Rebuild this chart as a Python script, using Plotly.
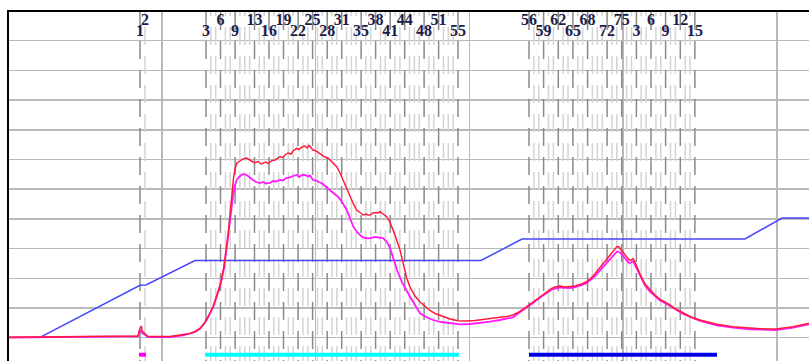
import plotly.graph_objects as go

# ---- curve data (x: time units, y: level units) ----
red_x = [0, 32, 92, 130, 132, 133.5, 134, 136, 138, 140, 162, 175, 182, 187, 192, 196, 199, 202, 205, 208,
         211, 213.7, 216, 218, 220, 222, 224, 225.5, 227, 229, 232, 235, 238.7, 242, 245, 247, 250, 253, 255, 258,
         260, 263.7, 267, 270, 272, 275, 277, 280, 283, 285, 288.7, 291, 294, 297, 299, 301, 303, 305, 308, 311,
         313.7, 317, 320, 322, 325, 328.7, 332, 335, 338, 342, 345, 348.7, 352, 355.3, 358, 360, 362, 365, 368, 370,
         372, 375, 378.7, 382, 385.3, 388, 392, 395, 398.7, 402, 407, 412, 417, 422, 427, 435, 442, 450, 458.7, 467,
         475, 482, 492, 499, 505, 510, 514, 518.7, 525, 532, 538, 543.7, 547, 552, 557, 562, 567, 570, 573.7, 578,
         582, 586, 590, 594, 598, 601, 604, 607, 609, 611, 613, 615, 617, 619, 621, 623, 625, 627, 629, 632, 637,
         642, 647, 652, 658.7, 667, 675, 682, 692, 708.7, 725, 742, 757, 768, 777, 785, 792, 801]
red_y = [0.4, 0.9, 1.2, 1.7, 9.7, 11.7, 6.7, 4.7, 3.7, 1.2, 1.2, 2.7, 4.2, 6.2, 9.4, 13.7, 18.7, 24.7, 31, 39.7,
         48.7, 57.7, 71.7, 85.7, 102.7, 122.7, 144.7, 159.7, 168.7, 174.7, 176.7, 178.7, 179.7, 177.2, 175.7, 175, 176.2, 173.7, 174.7, 175.7,
         174.2, 177, 177.7, 179.7, 181, 180.2, 182.7, 184.7, 183.7, 186.7, 189.4, 188.2, 190.7, 191.7, 189.7, 192.2, 189.7, 187.7, 186.7, 184.7,
         182.7, 180.7, 179.7, 177.7, 175.7, 171, 164.7, 157.7, 150.7, 141, 134.7, 127.7, 124.7, 122.7, 123.7, 122.7, 122.7, 124.7, 125.2, 124.7,
         126, 123.7, 121, 115.7, 107.7, 99.7, 87.7, 74.7, 59.7, 50.7, 41.7, 35.7, 31, 27.2, 24.2, 21, 18.7, 17, 16.7, 17.2,
         18.4, 19.2, 20.4, 21.2, 22.7, 25.2, 27.7, 31, 35.7, 41, 45.7, 49.4, 50.7, 51.7, 50.7, 51, 51.7, 52.7, 53.7, 55.7,
         58.7, 62.7, 67.7, 72.7, 77.7, 81.7, 85.7, 89.7, 91.2, 90.7, 88.2, 85.7, 83.7, 80.7, 77.7, 77.7, 79.2, 75.7, 70.7, 63.7, 53.7,
         47.7, 42.7, 38.2, 34.7, 29.2, 24.7, 21.2, 17.7, 13.4, 11, 9.4, 8.7, 8.7, 9.7, 11, 12.4, 14.4]

mag_x = [0, 130, 132, 134, 138, 140, 162, 175, 187, 192, 199, 205, 211, 216, 220, 223, 225, 227, 228.7, 231,
         235, 238.7, 242, 245, 248, 252, 255, 258, 262, 265, 268, 272, 275, 278, 282, 285, 288.7, 291, 294, 297,
         300, 302, 305, 308, 312, 315, 318, 322, 326, 330, 334, 338.7, 342, 345.3, 349, 353.7, 357, 362, 367, 372,
         375, 378.7, 382, 385.3, 389, 393.7, 397, 402, 407, 412, 418, 425, 433, 442, 452, 462, 472, 482, 492, 499,
         505, 510, 514, 518.7, 525, 532, 538, 543.7, 552, 562, 570, 578, 586, 594, 601, 605, 609, 612, 615, 618,
         621, 623, 625, 628, 632, 637, 642, 652, 658.7, 675, 692, 708.7, 725, 742, 768, 785, 801]
mag_y = [0.2, 1.4, 7.7, 4.7, 2.2, 0.7, 0.7, 2.4, 5.7, 8.9, 18.2, 30.2, 47.7, 69.7, 99.7, 125.7, 141.7, 152.7, 157.7, 160.7,
         163.7, 162.7, 159.7, 157.7, 155.7, 154.7, 155.7, 154.2, 154.7, 156.7, 156.2, 157.7, 157.2, 159.7, 160.2, 161.7, 162.7, 160.7, 162.7, 162.7,
         161.2, 162.2, 157.7, 157.2, 155.2, 153.7, 150.7, 147.7, 144.7, 141, 135.7, 127.7, 119.7, 111, 105.7, 101, 99.7, 99.4, 100.7, 100.4,
         99.7, 96, 89.7, 79.4, 67.7, 56, 49.7, 41, 32.7, 24.4, 20.7, 17.7, 15.7, 14.4, 13.4, 13.7, 14.7, 16, 17.7, 19.2,
         20.4, 24.2, 26.9, 30.2, 34.7, 40.2, 44.7, 48.2, 50.2, 49.7, 51.2, 54.2, 60.7, 69.7, 78.2, 82.7, 86.2, 85.2, 81.7, 78.7,
         74.7, 75.2, 76.7, 70.7, 61.7, 52.2, 46.2, 37.2, 33.7, 23.7, 16.7, 12.4, 10, 8.4, 7.7, 10, 13.4]

blue_x = [32, 132, 138, 187, 473, 514, 737, 774, 801]
blue_y = [0.4, 52.4, 52.7, 77.2, 77.2, 98.7, 98.7, 119.7, 119.7]

# ---- event markers ----
event_x = [132, 137,
           198, 202.8, 207.7, 212.5, 217.4, 222.2, 227.1, 231.9, 236.8, 241.6, 246.5, 251.3, 256.2, 261, 265.8,
           270.7, 275.5, 280.4, 285.2, 290.1, 294.9, 299.8, 304.6, 309.5, 314.3, 319.2, 324, 328.8, 333.7, 338.5,
           343.4, 348.2, 353.1, 357.9, 362.8, 367.6, 372.5, 377.3, 382.2, 387, 391.9, 396.7, 401.5, 406.4, 411.2,
           416.1, 420.9, 425.8, 430.6, 435.5, 440.3, 445.2, 450,
           521, 525.9, 530.8, 535.6, 540.5, 545.4, 550.3, 555.2, 560, 564.9, 569.8, 574.7, 579.6, 584.4, 589.3,
           594.2, 599.1, 604, 608.8, 613.7, 618.6, 623.5, 628.4, 633.2, 638.1, 643, 647.9, 652.8, 657.6, 662.5,
           667.4, 672.3, 677.2, 682, 686.9]
event_num = [1, 2] + list(range(3, 56)) + list(range(56, 76)) + list(range(1, 16))
labeled_idx = [0, 1, 2, 5, 8, 12, 15, 18, 21, 24, 27, 30, 34, 37, 40, 43, 47, 50, 54,
               55, 58, 61, 64, 67, 71, 74, 77, 80, 83, 86, 89]
light_labeled = [1]

# ---- bottom bars ----
bar_start = [131, 197, 521]
bar_end = [138, 451, 709]
bar_colors = ["#ff00ff", "#00ffff", "#0000e6"]
bar_level = -17

Y_TOP = 325.7
Y_BOT = -23.3
ROW_UP = 317.2
ROW_LOW = 305.3

fig = go.Figure()

dark_x, dark_y, light_x, light_y = [], [], [], []
for i, xv in enumerate(event_x):
    if i in labeled_idx and i not in light_labeled:
        dark_x += [xv, xv, None]
        dark_y += [Y_TOP, Y_BOT, None]
    else:
        light_x += [xv, xv, None]
        light_y += [Y_TOP, Y_BOT, None]

fig.add_trace(go.Scatter(x=light_x, y=light_y, mode="lines",
                         line=dict(color="#d4d4d4", width=1.5, dash="4px,11px,14px,0px"), hoverinfo="skip"))
fig.add_trace(go.Scatter(x=dark_x, y=dark_y, mode="lines",
                         line=dict(color="#8a8a8a", width=1.5, dash="18px,11px"), hoverinfo="skip"))

for s, e, c in zip(bar_start, bar_end, bar_colors):
    fig.add_trace(go.Scatter(x=[s, e], y=[bar_level, bar_level], mode="lines",
                             line=dict(color=c, width=4), hoverinfo="skip"))

fig.add_trace(go.Scatter(x=blue_x, y=blue_y, mode="lines", line=dict(color="#4646ff", width=1.5), hoverinfo="skip"))
fig.add_trace(go.Scatter(x=mag_x, y=mag_y, mode="lines", line=dict(color="#ff1aff", width=1.8), hoverinfo="skip"))
fig.add_trace(go.Scatter(x=red_x, y=red_y, mode="lines", line=dict(color="#ff1a3c", width=1.5), hoverinfo="skip"))

lab_x, lab_y, lab_t = [], [], []
for k, i in enumerate(labeled_idx):
    lab_x.append(event_x[i])
    lab_y.append(ROW_LOW if k % 2 == 0 else ROW_UP)
    lab_t.append(str(event_num[i]))
fig.add_trace(go.Scatter(x=lab_x, y=lab_y, text=lab_t, mode="text", textposition="middle center",
                         textfont=dict(family="Liberation Serif", size=16, color="#1c1c4a", weight="bold"),
                         hoverinfo="skip"))

fig.update_layout(
    width=809, height=361,
    margin=dict(l=9, r=0, t=12, b=0),
    paper_bgcolor="white", plot_bgcolor="white",
    showlegend=False, hovermode=False,
    xaxis=dict(range=[1, 801], side="top", showline=True, linecolor="black", linewidth=2,
               showgrid=True, gridcolor="#b9b9b9", gridwidth=1.5, tick0=0, dtick=153.8,
               showticklabels=False, ticks="", zeroline=False, fixedrange=True),
    yaxis=dict(range=[Y_BOT, Y_TOP], showline=True, linecolor="black", linewidth=2,
               showgrid=True, gridcolor="#b9b9b9", gridwidth=1.5, tick0=0, dtick=29.7,
               showticklabels=False, ticks="", zeroline=False, fixedrange=True),
)

fig.write_html("out.html", config={"displayModeBar": False, "staticPlot": True},
               post_script="document.body.style.margin='0';document.body.style.overflow='hidden';")
